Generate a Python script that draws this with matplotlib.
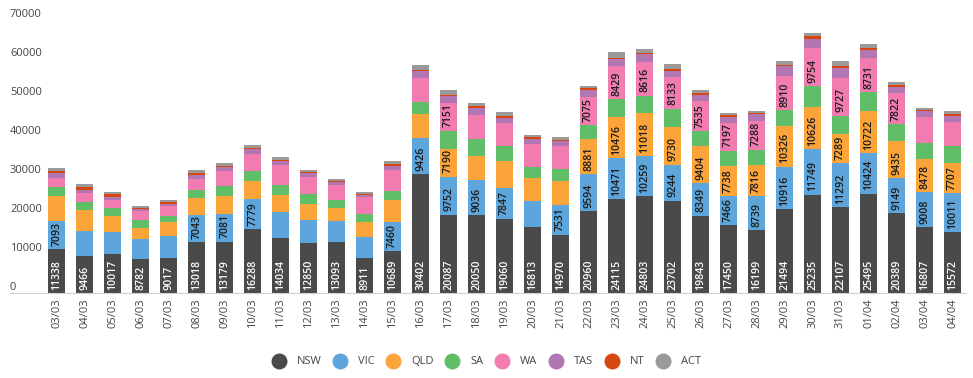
import matplotlib
matplotlib.use('Agg')
import matplotlib.pyplot as plt
from matplotlib.lines import Line2D
import matplotlib.transforms as mtransforms
import numpy as np

plt.rcParams['font.family'] = ['Open Sans', 'DejaVu Sans']

# Daily counts per state
dates = ['03/03', '04/03', '05/03', '06/03', '07/03', '08/03', '09/03', '10/03', '11/03', '12/03',
         '13/03', '14/03', '15/03', '16/03', '17/03', '18/03', '19/03', '20/03', '21/03', '22/03',
         '23/03', '24/03', '25/03', '26/03', '27/03', '28/03', '29/03', '30/03', '31/03', '01/04',
         '02/04', '03/04', '04/04']

nsw = [11338, 9466, 10017, 8782, 9017, 13018, 13179, 16288, 14034, 12850,
       13093, 8911, 10689, 30402, 20087, 20050, 19060, 16813, 14970, 20960,
       24115, 24803, 23702, 19843, 17450, 16199, 21494, 25235, 22107, 25495,
       20389, 16807, 15572]
vic = [7093, 6500, 5640, 5130, 5640, 7043, 7081, 7779, 6840, 5980,
       5300, 5560, 7460, 9426, 9752, 9036, 7847, 6670, 7531, 9594,
       10471, 10259, 9244, 8349, 7466, 8739, 10916, 11749, 11292, 10424,
       9149, 9008, 10011]
qld = [6410, 5300, 4100, 2820, 3590, 4270, 4700, 4530, 4360, 4100,
       3500, 3850, 5640, 6150, 7190, 6150, 6920, 5900, 6320, 8881,
       10476, 11018, 9730, 9404, 7738, 7816, 10326, 10626, 7289, 10722,
       9435, 8478, 7707]
sa = [2220, 2050, 1970, 1880, 1540, 2140, 2560, 2730, 2480, 2560,
      2050, 2050, 2480, 3080, 4615, 4270, 3930, 2990, 2990, 3680,
      4615, 4530, 4615, 4020, 3850, 4020, 4100, 5380, 4790, 4960,
      4360, 4100, 4530]
wa = [2480, 2400, 2140, 2300, 2560, 2730, 3850, 4440, 5040, 4270,
      3680, 4190, 5380, 6150, 7151, 6150, 5900, 5810, 5810, 7075,
      8429, 8616, 8133, 7535, 7197, 7288, 8910, 9754, 9727, 8731,
      7822, 6670, 6070]
tas = [1110, 770, 850, 600, 600, 940, 940, 1030, 1030, 1030,
       770, 600, 1030, 1710, 1620, 1790, 1280, 1370, 1280, 1880,
       1880, 1970, 1540, 1710, 1540, 1710, 2480, 2480, 2390, 1880,
       1620, 1540, 1620]
nt = [600, 770, 600, 340, 340, 600, 340, 430, 340, 340,
      430, 340, 340, 340, 430, 430, 430, 340, 340, 430,
      340, 340, 600, 340, 340, 340, 340, 600, 600, 510,
      600, 340, 340]
act = [680, 680, 600, 510, 600, 680, 680, 770, 850, 510,
       510, 510, 940, 1280, 1280, 850, 1030, 510, 680, 680,
       1540, 1030, 1110, 940, 600, 680, 1030, 940, 1370, 1110,
       770, 600, 770]

states = ['NSW', 'VIC', 'QLD', 'SA', 'WA', 'TAS', 'NT', 'ACT']
series = [nsw, vic, qld, sa, wa, tas, nt, act]
colors = ['#4a4a4a', '#5da5da', '#faa43a', '#60bd68', '#f17cb0', '#b276b2', '#d6470f', '#9a9a9a']

W, H = 973, 378
fig = plt.figure(figsize=(W / 100, H / 100), dpi=100)
ax = fig.add_axes([42.7 / W, (H - 293) / H, (966.5 - 42.7) / W, (293 - 20) / H])

x = np.arange(len(dates))
bottom = np.zeros(len(dates))
for name, vals, col in zip(states, series, colors):
    vals = np.array(vals, dtype=float)
    ax.bar(x, vals, width=0.6, bottom=bottom, color=col, linewidth=0)
    # value labels for segments large enough to hold them
    for i in range(len(dates)):
        if vals[i] >= 7000:
            ax.annotate(str(int(vals[i])), (x[i], bottom[i]), xytext=(0, 2.3),
                        textcoords='offset points', rotation=90, ha='center', va='bottom',
                        fontsize=7.6, fontweight='semibold',
                        color='white' if name == 'NSW' else '#1a1a1a')
    bottom += vals

ax.set_xlim(-0.5, len(dates) - 0.5)
ax.set_ylim(0, 70000)
for s in ax.spines.values():
    s.set_visible(False)
ax.set_xticks(x)
ax.set_xticklabels(dates, rotation=90, fontsize=8, color='#444444')
ax.tick_params(axis='x', length=0, pad=4)
ax.set_yticks([])

# y tick labels sit just above their values, left aligned at the figure edge
trans = mtransforms.blended_transform_factory(fig.transFigure, ax.transData)
for v in range(0, 70001, 10000):
    ax.text(10 / W, v, str(v), transform=trans, ha='left', va='bottom',
            fontsize=8, color='#444444')

fig.add_artist(Line2D([10 / W, 966 / W], [(H - 293) / H] * 2, color='#d0d0d0', lw=0.8))

handles = [Line2D([], [], marker='o', linestyle='', markersize=11.5, markerfacecolor=c,
                  markeredgewidth=0) for c in colors]
fig.legend(handles, states, loc='center', bbox_to_anchor=(487 / W, (H - 362) / H), ncol=8,
           frameon=False, fontsize=8, labelcolor='#444444', handletextpad=1.1,
           columnspacing=1.2, handlelength=1.0)

fig.savefig('out.png', dpi=100)
